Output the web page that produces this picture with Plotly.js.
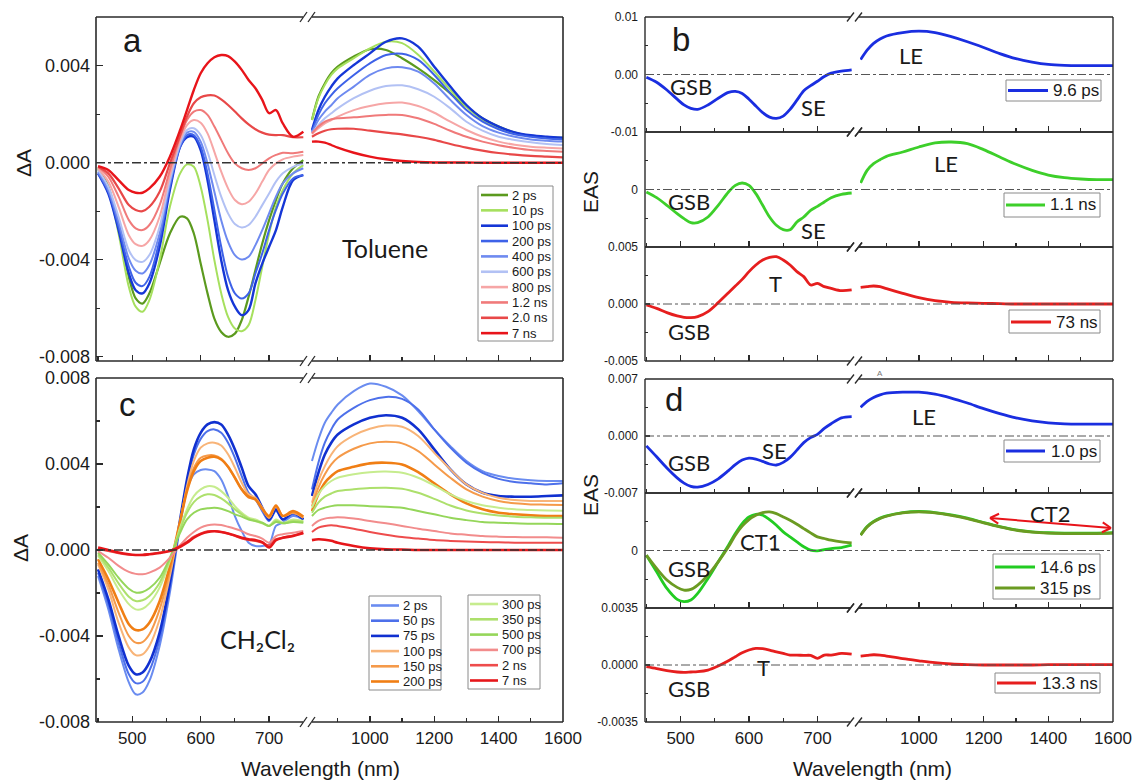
<!DOCTYPE html>
<html><head><meta charset="utf-8">
<script src="https://cdn.plot.ly/plotly-3.0.1.min.js"></script>
<style>html,body{margin:0;padding:0;background:#fff}#chart{width:1138px;height:781px}</style>
</head><body><div id="chart"></div>
<script>
// ===================== DATA (values in units of 1e-3) =====================
const UNIT = 1e-3;
const wlVis = [450,465,480,495,505,515,525,540,555,570,580,590,600,610,620,630,640,650,660,670,680,690,700,710,720,735,750];
const wlNir = [820,840,860,880,900,950,1000,1050,1100,1150,1200,1250,1300,1350,1400,1450,1500,1550,1600];
const xTicksVis = [500,600,700];
const xTicksNir = [1000,1200,1400,1600];

// ---- panel a : Toluene ----
const aNames = ['2 ps','10 ps','100 ps','200 ps','400 ps','600 ps','800 ps','1.2 ns','2.0 ns','7 ns'];
const a2psVis = [-0.23,-0.99,-2.64,-4.71,-5.60,-5.81,-5.39,-4.16,-2.92,-2.23,-2.30,-2.92,-4.16,-5.39,-6.43,-6.98,-7.18,-7.05,-6.49,-5.53,-4.43,-3.33,-2.37,-1.54,-0.85,-0.23,0.11];
const a2psNir = [1.76,2.72,3.27,3.69,3.96,4.38,4.68,4.65,4.31,3.89,3.41,2.86,2.31,1.83,1.49,1.24,1.10,1.05,1.02];
const a10psVis = [-0.30,-1.13,-2.92,-5.12,-5.94,-6.15,-5.67,-4.02,-1.82,-0.44,-0.07,-0.17,-0.99,-2.37,-4.02,-5.39,-6.36,-6.84,-6.95,-6.70,-5.67,-4.29,-2.92,-1.82,-1.13,-0.44,-0.10];
const a10psNir = [1.76,2.66,3.21,3.62,3.89,4.31,4.72,4.99,4.93,4.45,3.76,3.00,2.31,1.76,1.42,1.21,1.10,1.05,1.02];
const a100psVis = [-0.44,-1.27,-2.78,-4.57,-5.26,-5.39,-4.98,-3.47,-1.13,0.66,1.05,1.07,0.52,-0.72,-2.37,-4.02,-5.26,-5.94,-6.29,-6.08,-4.98,-4.16,-3.47,-2.78,-1.82,-0.72,-0.51];
const a100psNir = [1.35,2.17,2.72,3.14,3.48,4.03,4.51,4.99,5.13,4.79,3.96,3.14,2.38,1.83,1.49,1.25,1.13,1.07,1.03];
const a200psVis = [-0.44,-1.20,-2.64,-4.29,-4.95,-5.09,-4.71,-3.19,-0.99,0.66,1.14,1.14,0.66,-0.44,-1.95,-3.47,-4.71,-5.39,-5.60,-5.39,-4.57,-3.74,-2.78,-1.95,-1.27,-0.65,-0.51];
const a200psNir = [1.28,1.97,2.45,2.79,3.07,3.62,4.10,4.44,4.49,4.24,3.62,2.86,2.17,1.69,1.38,1.17,1.07,1.00,0.96];
const a400psVis = [-0.37,-1.13,-2.44,-3.96,-4.46,-4.57,-4.22,-2.92,-0.85,0.73,1.24,1.27,0.87,-0.03,-1.20,-2.37,-3.26,-3.81,-3.99,-3.88,-3.40,-2.78,-2.09,-1.40,-0.85,-0.44,-0.23];
const a400psNir = [1.24,1.76,2.11,2.37,2.66,3.14,3.62,3.89,3.94,3.76,3.27,2.59,1.97,1.51,1.24,1.07,0.96,0.91,0.87];
const a600psVis = [-0.30,-0.99,-2.23,-3.61,-4.02,-4.09,-3.81,-2.64,-0.72,0.80,1.35,1.42,1.14,0.45,-0.51,-1.40,-2.09,-2.53,-2.67,-2.57,-2.23,-1.75,-1.27,-0.78,-0.44,-0.17,-0.03];
const a600psNir = [1.21,1.55,1.83,2.04,2.24,2.66,2.97,3.16,3.19,3.03,2.72,2.24,1.69,1.32,1.07,0.94,0.84,0.77,0.73];
const a800psVis = [-0.23,-0.78,-1.82,-2.99,-3.36,-3.43,-3.19,-2.23,-0.51,0.94,1.55,1.76,1.65,1.21,0.45,-0.37,-1.06,-1.54,-1.71,-1.61,-1.27,-0.78,-0.30,-0.03,0.14,0.25,0.32];
const a800psNir = [1.18,1.42,1.62,1.76,1.90,2.17,2.34,2.45,2.48,2.34,2.06,1.69,1.35,1.07,0.87,0.74,0.66,0.62,0.59];
const a1p2nsVis = [-0.17,-0.58,-1.40,-2.37,-2.71,-2.78,-2.57,-1.75,-0.30,1.07,1.76,2.11,2.17,1.97,1.49,0.94,0.39,-0.03,-0.23,-0.30,-0.23,-0.03,0.18,0.32,0.41,0.39,0.45];
const a1p2nsNir = [1.21,1.49,1.69,1.79,1.83,1.87,1.93,1.97,1.97,1.83,1.60,1.32,1.07,0.87,0.72,0.61,0.52,0.48,0.45];
const a2p0nsVis = [-0.17,-0.44,-1.06,-1.75,-1.95,-2.00,-1.82,-1.20,-0.03,1.14,1.90,2.45,2.70,2.78,2.77,2.61,2.38,2.11,1.83,1.58,1.38,1.24,1.16,1.14,1.14,1.05,1.05];
const a2p0nsNir = [1.07,1.21,1.32,1.38,1.40,1.40,1.32,1.24,1.17,1.07,0.94,0.77,0.62,0.50,0.40,0.33,0.28,0.25,0.22];
const a7nsVis = [-0.14,-0.30,-0.72,-1.13,-1.24,-1.24,-1.06,-0.58,0.25,1.35,2.17,3.00,3.69,4.10,4.35,4.44,4.40,4.17,3.83,3.41,3.07,2.59,2.04,2.17,1.62,1.07,1.28];
const a7nsNir = [0.87,0.87,0.83,0.73,0.62,0.41,0.25,0.14,0.07,0.03,0.01,0.01,0.01,0,0,0,0,0,0];

// ---- panel c : CH2Cl2 ----
const cNames = ['2 ps','50 ps','75 ps','100 ps','150 ps','200 ps','300 ps','350 ps','500 ps','700 ps','2 ns','7 ns'];
const c2psVis = [-1.21,-2.76,-4.62,-6.16,-6.71,-6.63,-6.09,-4.46,-1.98,1.12,2.82,3.52,3.72,3.75,3.67,3.28,2.51,1.58,0.88,0.34,0.19,0.19,0.26,1.12,1.27,1.58,1.42];
const c2psNir = [4.14,5.14,5.92,6.38,6.77,7.39,7.74,7.59,7.19,6.46,5.61,4.83,4.14,3.67,3.44,3.31,3.24,3.21,3.21];
const c50psVis = [-1.05,-2.52,-4.31,-5.78,-6.19,-6.13,-5.62,-4.15,-1.75,1.27,3.13,4.45,5.17,5.53,5.61,5.45,4.99,4.29,3.44,2.66,2.35,1.81,1.35,1.81,1.42,1.66,1.42];
const c50psNir = [2.82,4.06,4.99,5.61,6.07,6.61,6.97,7.12,7.03,6.54,5.61,4.76,4.06,3.59,3.31,3.16,3.10,3.05,3.10];
const c75psVis = [-0.90,-2.29,-4.00,-5.39,-5.78,-5.70,-5.23,-3.84,-1.52,1.42,3.28,4.68,5.45,5.84,5.95,5.84,5.37,4.68,3.83,2.97,2.59,1.97,1.42,1.89,1.42,1.73,1.42];
const c75psNir = [2.51,3.59,4.44,4.99,5.37,5.84,6.15,6.27,6.15,5.61,4.68,3.75,3.05,2.66,2.51,2.48,2.48,2.51,2.54];
const c100psVis = [-0.67,-1.83,-3.38,-4.54,-4.89,-4.85,-4.46,-3.22,-1.21,1.27,2.97,4.14,4.76,4.96,4.99,4.86,4.45,3.83,3.13,2.59,2.43,1.97,1.50,2.04,1.58,1.73,1.50];
const c100psNir = [2.20,3.21,3.90,4.44,4.83,5.33,5.64,5.79,5.73,5.30,4.52,3.75,3.05,2.66,2.43,2.32,2.28,2.28,2.28];
const c150psVis = [-0.59,-1.60,-2.91,-4.00,-4.31,-4.28,-3.92,-2.76,-0.98,1.35,2.82,3.82,4.29,4.40,4.40,4.24,3.87,3.36,2.82,2.43,2.35,1.89,1.50,2.04,1.58,1.73,1.50];
const c150psNir = [2.04,2.90,3.52,3.98,4.29,4.71,4.96,5.03,4.96,4.60,3.98,3.36,2.82,2.48,2.28,2.17,2.12,2.11,2.09];
const c200psVis = [-0.43,-1.36,-2.45,-3.45,-3.72,-3.69,-3.38,-2.38,-0.74,1.35,2.74,3.67,4.14,4.29,4.34,4.21,3.87,3.36,2.82,2.48,2.35,1.92,1.58,2.07,1.58,1.81,1.55];
const c200psNir = [1.81,2.59,3.13,3.44,3.67,3.87,4.03,4.06,3.98,3.62,3.10,2.59,2.17,1.89,1.73,1.66,1.61,1.58,1.58];
const c300psVis = [-0.28,-0.98,-1.83,-2.52,-2.76,-2.73,-2.48,-1.75,-0.51,1.04,1.89,2.51,2.82,2.97,2.94,2.74,2.43,2.04,1.73,1.50,1.42,1.27,1.12,1.42,1.27,1.42,1.35];
const c300psNir = [1.97,2.59,2.97,3.21,3.36,3.52,3.62,3.65,3.59,3.36,3.00,2.59,2.28,2.08,1.97,1.89,1.86,1.84,1.83];
const c350psVis = [-0.20,-0.82,-1.55,-2.17,-2.37,-2.34,-2.14,-1.52,-0.43,0.96,1.73,2.23,2.48,2.59,2.56,2.40,2.17,1.89,1.66,1.46,1.35,1.24,1.12,1.35,1.24,1.35,1.30];
const c350psNir = [1.73,2.20,2.48,2.63,2.74,2.82,2.88,2.90,2.85,2.66,2.38,2.07,1.84,1.70,1.61,1.55,1.52,1.50,1.50];
const c500psVis = [-0.12,-0.67,-1.29,-1.80,-1.98,-1.95,-1.78,-1.29,-0.36,0.81,1.42,1.73,1.89,1.94,1.97,1.92,1.81,1.66,1.55,1.42,1.35,1.27,1.12,1.30,1.24,1.30,1.27];
const c500psNir = [1.58,1.86,1.97,2.04,2.08,2.08,2.04,2.01,1.97,1.81,1.66,1.50,1.39,1.30,1.27,1.24,1.22,1.22,1.21];
const c700psVis = [-0.05,-0.36,-0.74,-1.02,-1.11,-1.13,-1.05,-0.82,-0.36,0.22,0.57,0.84,1.04,1.15,1.19,1.16,1.08,0.99,0.88,0.73,0.65,0.53,0.34,0.65,0.73,0.80,0.88];
const c700psNir = [1.12,1.35,1.46,1.50,1.52,1.46,1.35,1.24,1.12,0.99,0.88,0.77,0.71,0.65,0.62,0.60,0.59,0.59,0.57];
const c2nsVis = [0.03,-0.05,-0.15,-0.22,-0.23,-0.22,-0.19,-0.12,-0.03,0.19,0.39,0.62,0.77,0.87,0.88,0.84,0.77,0.65,0.53,0.46,0.42,0.34,0.22,0.50,0.57,0.68,0.77];
const c2nsNir = [0.84,1.04,1.12,1.15,1.12,0.99,0.84,0.71,0.60,0.53,0.46,0.42,0.39,0.37,0.36,0.34,0.34,0.34,0.34];
const c7nsVis = [0.11,0.00,-0.12,-0.20,-0.23,-0.23,-0.20,-0.14,-0.05,0.15,0.34,0.57,0.74,0.84,0.87,0.84,0.77,0.68,0.57,0.50,0.46,0.37,0.12,0.46,0.57,0.65,0.80];
const c7nsNir = [0.46,0.50,0.48,0.43,0.34,0.19,0.08,0.03,0.02,0,0,0,0,0,0,0,0,0,0];

// ---- panel b : EAS toluene ----
const b96psVis = [-0.47,-1.35,-2.70,-4.29,-5.29,-5.88,-6.06,-5.29,-4.12,-3.12,-2.94,-3.29,-4.29,-5.47,-6.64,-7.41,-7.64,-7.23,-6.06,-4.47,-2.82,-1.94,-1.18,-0.35,0.24,0.59,0.82];
const b96psNir = [2.59,4.23,5.41,6.17,6.70,7.29,7.53,7.29,6.58,5.70,4.70,3.64,2.76,2.17,1.76,1.59,1.53,1.53,1.53];
const b11nsVis = [-0.43,-1.42,-2.75,-4.20,-5.07,-5.77,-5.77,-4.78,-2.75,-0.43,0.72,1.13,0.72,-0.72,-2.75,-4.78,-6.23,-6.99,-6.99,-5.65,-4.78,-3.62,-2.93,-2.17,-1.42,-0.84,-0.61];
const b11nsNir = [1.13,3.33,4.49,5.19,5.77,6.52,7.39,8.09,8.26,7.97,6.93,5.65,4.38,3.33,2.52,2.06,1.83,1.71,1.71];
const b73nsVis = [-0.09,-0.38,-0.76,-1.05,-1.17,-1.20,-1.11,-0.67,0.12,0.99,1.58,2.16,2.84,3.42,3.86,4.09,4.15,3.86,3.42,2.84,2.40,1.67,1.81,1.52,1.37,1.17,1.23];
const b73nsNir = [1.46,1.52,1.58,1.52,1.35,0.94,0.56,0.29,0.15,0.09,0.06,0.03,0,0,0,0,0,0,0];

// ---- panel d : EAS CH2Cl2 ----
const d10psVis = [-1.21,-2.55,-3.93,-5.14,-5.79,-6.19,-6.28,-5.95,-5.26,-4.25,-3.52,-2.96,-2.71,-2.83,-3.12,-3.44,-3.56,-3.24,-2.63,-1.74,-0.81,-0.20,0.20,0.93,1.50,2.23,2.39];
const d10psNir = [3.52,4.25,4.74,5.06,5.26,5.38,5.38,5.14,4.66,4.05,3.36,2.75,2.23,1.86,1.62,1.50,1.46,1.46,1.46];
const d146psVis = [-0.57,-2.59,-4.62,-5.95,-6.23,-6.03,-5.22,-3.40,-1.38,0.65,2.06,3.28,4.09,4.41,4.29,3.76,3.08,2.27,1.66,1.05,0.45,0.04,-0.04,0.12,0.24,0.36,0.65];
const d146psNir = [1.90,2.92,3.53,3.94,4.22,4.62,4.75,4.62,4.34,3.94,3.41,2.92,2.52,2.28,2.16,2.11,2.11,2.11,2.16];
const d315psVis = [-0.57,-2.19,-3.60,-4.49,-4.82,-4.74,-4.21,-2.98,-1.38,0.45,1.86,2.96,3.77,4.29,4.62,4.70,4.49,4.09,3.68,3.20,2.67,2.15,1.66,1.46,1.26,1.05,0.93];
const d315psNir = [1.86,2.87,3.48,3.89,4.17,4.57,4.70,4.57,4.29,3.89,3.36,2.87,2.47,2.23,2.11,2.06,2.06,2.06,2.11];
const d133nsVis = [-0.10,-0.22,-0.35,-0.43,-0.45,-0.43,-0.41,-0.31,-0.06,0.26,0.51,0.75,0.92,1.02,1.00,0.92,0.81,0.71,0.61,0.61,0.59,0.59,0.41,0.61,0.61,0.71,0.67];
const d133nsNir = [0.55,0.59,0.63,0.61,0.55,0.39,0.26,0.14,0.06,0.02,0,0,0,0,0.02,0.02,0.02,0.02,0.02];

// ===================== STYLES =====================
const aColors = ['#5b9a1e','#a6e05e','#1536d6','#3e62e8','#6e8af0','#b2c1f4','#f6a6a6','#f07a7a','#e84848','#e8141a'];
const aWidths = [2.2,2,2.4,2,2,2,2,2,2.2,2.4];
const cColors = ['#6a8cf0','#4d70ea','#1030d0','#f8b478','#f59a4a','#f07e14','#c6ec8e','#ade06c','#95d65a','#f28c8c','#ee4c4c','#e6161a'];
const cWidths = [2,2,2.6,2,2,2.6,2,2,2,2,2,2.6];

// ===================== LAYOUT HELPERS =====================
const W = 1138, H = 781;
const fx = px => px / W;
const fy = py => 1 - py / H;
const TXT = '#1a1a1a', FRAME = '#2a2a2a';
const ARIAL = 'Liberation Sans, Arial, sans-serif';
const CAL = 'Lato, Carlito, sans-serif';

const COLS = {
  left:  {vis:[96,304], nir:[311,563], visR:[447,751], nirR:[817,1600], bl:303, br:312, yfont:18, stand:5},
  right: {vis:[645,852], nir:[860,1113], visR:[448,750.5], nirR:[818,1600], bl:850, br:859, yfont:12, stand:6}
};

const layout = {
  width: W, height: H, margin:{l:0,r:0,t:0,b:0},
  paper_bgcolor:'#ffffff', plot_bgcolor:'rgba(0,0,0,0)', showlegend:false,
  font:{family:ARIAL, color:TXT}, shapes:[], annotations:[]
};
const traces = [];
let nx = 0, ny = 0;

function lineShape(x0,y0,x1,y1,color,width){
  layout.shapes.push({type:'line', xref:'paper', yref:'paper', x0:fx(x0), y0:fy(y0), x1:fx(x1), y1:fy(y1), line:{color:color, width:width}});
}

function makeSubplot(p){
  const c = COLS[p.col];
  ny++; const yRef = ny===1?'y':'y'+ny; const yKey = ny===1?'yaxis':'yaxis'+ny;
  nx++; const xvRef = nx===1?'x':'x'+nx; const xvKey = nx===1?'xaxis':'xaxis'+nx;
  nx++; const xnRef = 'x'+nx; const xnKey = 'xaxis'+nx;
  const common = {showgrid:false, zeroline:false, showline:false, ticks:'inside', tickcolor:FRAME, tickwidth:1.4, ticklen:6, fixedrange:true};
  const xfont = {family:ARIAL, size:17, color:TXT};
  layout[xvKey] = Object.assign({}, common, {domain:[fx(c.vis[0]), fx(c.vis[1])], range:c.visR, anchor:yRef,
    tickmode:'array', tickvals:xTicksVis, ticktext:xTicksVis.map(String), showticklabels:!!p.xlabels, tickfont:xfont, ticklabelstandoff:4,
    minor:{tickmode:'linear', tick0:0, dtick:50, ticks:'inside', ticklen:4, tickwidth:1.2, tickcolor:FRAME}});
  layout[xnKey] = Object.assign({}, common, {domain:[fx(c.nir[0]), fx(c.nir[1])], range:c.nirR, anchor:yRef,
    tickmode:'array', tickvals:xTicksNir, ticktext:xTicksNir.map(String), showticklabels:!!p.xlabels, tickfont:xfont, ticklabelstandoff:4,
    minor:{tickmode:'linear', tick0:0, dtick:100, ticks:'inside', ticklen:4, tickwidth:1.2, tickcolor:FRAME}});
  layout[yKey] = Object.assign({}, common, {domain:[fy(p.bot), fy(p.top)], range:p.range, anchor:xvRef,
    tickmode:'array', tickvals:p.tv, ticktext:p.tt, tickfont:{family:ARIAL, size:c.yfont, color:TXT}, ticklabelstandoff:c.stand,
    ticklen: p.col==='left'?7:5,
    minor:{tickmode:'linear', tick0:0, dtick:p.minor, ticks:'inside', ticklen:p.col==='left'?4:3, tickwidth:1.2, tickcolor:FRAME}});
  const lw = p.col==='left'?1.6:1.4;
  lineShape(c.vis[0], p.top, c.vis[0], p.bot, FRAME, lw);
  lineShape(c.nir[1], p.top, c.nir[1], p.bot, FRAME, lw);
  [p.top, p.bot].forEach(yy => {
    lineShape(c.vis[0], yy, c.bl, yy, FRAME, lw);
    lineShape(c.br, yy, c.nir[1], yy, FRAME, lw);
    const h = p.col==='left'?5:4.5;
    lineShape(c.bl-3, yy+h, c.bl+4, yy-h, FRAME, 1.3);
    lineShape(c.br-4, yy+h, c.br+3, yy-h, FRAME, 1.3);
  });
  layout.shapes.push({type:'line', xref:'paper', yref:yRef, x0:fx(c.vis[0]), x1:fx(c.nir[1]), y0:0, y1:0,
    line:{color: p.col==='left'?'#333':'#555', width: p.col==='left'?1.5:1, dash:'dashdot'}});
  return {xv:xvRef, xn:xnRef, y:yRef};
}

function addSeries(ax, vis, nir, color, width){
  const base = {type:'scatter', mode:'lines', yaxis:ax.y, hoverinfo:'skip', showlegend:false};
  traces.push(Object.assign({}, base, {x:wlVis, y:vis.map(v=>v*UNIT), xaxis:ax.xv, line:{color:color, width:width, shape:'spline', smoothing:0.9}}));
  traces.push(Object.assign({}, base, {x:wlNir, y:nir.map(v=>v*UNIT), xaxis:ax.xn, line:{color:color, width:width, shape:'spline', smoothing:0.9}}));
}

function text(t, x, y, size, family, opts){
  layout.annotations.push(Object.assign({text:t, xref:'paper', yref:'paper', x:fx(x), y:fy(y), showarrow:false,
    xanchor:'center', yanchor:'middle', font:{family:family, size:size, color:TXT}}, opts||{}));
}

function legendBox(items, box, lineX, textX, y0, dy, fsize, lw){
  layout.shapes.push({type:'rect', xref:'paper', yref:'paper', x0:fx(box[0]), y0:fy(box[1]), x1:fx(box[2]), y1:fy(box[3]),
    line:{color:'#8a8a8a', width:1}, fillcolor:'rgba(255,255,255,0)'});
  items.forEach((it, i) => {
    const yy = y0 + i*dy;
    lineShape(lineX[0], yy, lineX[1], yy, it.color, lw);
    text(it.name, textX, yy, fsize, ARIAL, {xanchor:'left'});
  });
}

function doubleArrow(x0, y0, x1, y1, color, width, headLen){
  lineShape(x0, y0, x1, y1, color, width);
  const L = Math.hypot(x1-x0, y1-y0), ux = (x1-x0)/L, uy = (y1-y0)/L;
  const a = Math.PI/6, ca = Math.cos(a), sa = Math.sin(a);
  const rot = (vx, vy, s) => [vx*ca - s*vy*sa, s*vx*sa + vy*ca];
  [[x1, y1, -ux, -uy], [x0, y0, ux, uy]].forEach(([px, py, vx, vy]) => {
    [1, -1].forEach(s => {
      const r = rot(vx, vy, s);
      lineShape(px, py, px + r[0]*headLen, py + r[1]*headLen, color, width);
    });
  });
}

// ===================== PANELS =====================
const pa = makeSubplot({col:'left', top:17, bot:361, range:[-0.00818,0.00601], tv:[-0.008,-0.004,0,0.004], tt:['-0.008','-0.004','0.000','0.004'], minor:0.002});
const pc = makeSubplot({col:'left', top:378, bot:722, range:[-0.008,0.008], tv:[-0.008,-0.004,0,0.004,0.008], tt:['-0.008','-0.004','0.000','0.004','0.008'], minor:0.002, xlabels:true});
const pb1 = makeSubplot({col:'right', top:17, bot:132, range:[-0.01,0.01], tv:[-0.01,0,0.01], tt:['-0.01','0.00','0.01'], minor:0.005});
const pb2 = makeSubplot({col:'right', top:132, bot:247, range:[-0.01,0.01], tv:[0], tt:['0'], minor:0.005});
const pb3 = makeSubplot({col:'right', top:247, bot:361, range:[-0.005,0.005], tv:[-0.005,0,0.005], tt:['-0.005','0.000','0.005'], minor:0.0025});
const pd1 = makeSubplot({col:'right', top:379, bot:493, range:[-0.007,0.007], tv:[-0.007,0,0.007], tt:['-0.007','0.000','0.007'], minor:0.0035});
const pd2 = makeSubplot({col:'right', top:493, bot:608, range:[-0.007,0.007], tv:[0], tt:['0'], minor:0.0035});
const pd3 = makeSubplot({col:'right', top:608, bot:722, range:[-0.0035,0.0035], tv:[-0.0035,0,0.0035], tt:['-0.0035','0.0000','0.0035'], minor:0.00175, xlabels:true});

const aVis = [a2psVis,a10psVis,a100psVis,a200psVis,a400psVis,a600psVis,a800psVis,a1p2nsVis,a2p0nsVis,a7nsVis];
const aNir = [a2psNir,a10psNir,a100psNir,a200psNir,a400psNir,a600psNir,a800psNir,a1p2nsNir,a2p0nsNir,a7nsNir];
aNames.forEach((n,i) => addSeries(pa, aVis[i], aNir[i], aColors[i], aWidths[i]));

const cVis = [c2psVis,c50psVis,c75psVis,c100psVis,c150psVis,c200psVis,c300psVis,c350psVis,c500psVis,c700psVis,c2nsVis,c7nsVis];
const cNir = [c2psNir,c50psNir,c75psNir,c100psNir,c150psNir,c200psNir,c300psNir,c350psNir,c500psNir,c700psNir,c2nsNir,c7nsNir];
cNames.forEach((n,i) => addSeries(pc, cVis[i], cNir[i], cColors[i], cWidths[i]));

const bdSeries = [
  {ax:pb1, name:'9.6 ps', vis:b96psVis, nir:b96psNir, color:'#1a2ee0'},
  {ax:pb2, name:'1.1 ns', vis:b11nsVis, nir:b11nsNir, color:'#3dcf2a'},
  {ax:pb3, name:'73 ns', vis:b73nsVis, nir:b73nsNir, color:'#e61e1e'},
  {ax:pd1, name:'1.0 ps', vis:d10psVis, nir:d10psNir, color:'#1a2ee0'},
  {ax:pd2, name:'14.6 ps', vis:d146psVis, nir:d146psNir, color:'#22cc22'},
  {ax:pd2, name:'315 ps', vis:d315psVis, nir:d315psNir, color:'#6b9b22'},
  {ax:pd3, name:'13.3 ns', vis:d133nsVis, nir:d133nsNir, color:'#e61e1e'}
];
bdSeries.forEach(s => addSeries(s.ax, s.vis, s.nir, s.color, 2.8));

// ===================== LEGENDS =====================
legendBox(aNames.map((n,i)=>({name:n, color:aColors[i]})), [478,186,553,341], [481,508], 510, 195, 15.35, 13, 2.6);
legendBox(cNames.slice(0,6).map((n,i)=>({name:n, color:cColors[i]})), [369,596,441,690], [371,399], 401, 605.5, 15.2, 13, 2.6);
legendBox(cNames.slice(6).map((n,i)=>({name:n, color:cColors[i+6]})), [468,595,540,689], [470,498], 500, 604, 15.3, 13, 2.6);
legendBox([bdSeries[0]], [1006,80,1101,101], [1008,1048], 1051, 90.5, 0, 17, 3.2);
legendBox([bdSeries[1]], [1004,193,1100,217], [1006,1045], 1048, 205, 0, 17, 3.2);
legendBox([bdSeries[2]], [1009,310,1100,333], [1011,1051], 1054, 322, 0, 17, 3.2);
legendBox([bdSeries[3]], [1004,440,1100,462], [1006,1045], 1049, 451, 0, 17, 3.2);
legendBox([bdSeries[4], bdSeries[5]], [993,554,1100,599], [995,1035], 1038, 567, 21, 17, 3.2);
legendBox([bdSeries[6]], [995,673,1100,693], [997,1036], 1040, 683, 0, 17, 3.2);

// ===================== TEXT =====================
text('a', 132, 41, 33, ARIAL); text('c', 128, 404, 33, ARIAL);
text('b', 681, 39, 33, ARIAL); text('d', 674, 399, 33, ARIAL);
text('Toluene', 385, 248, 25, CAL);
text('CH\u2082Cl\u2082', 257, 639, 25, CAL);
text('\u0394A', 23, 163, 21, ARIAL, {textangle:-90});
text('\u0394A', 20, 548, 21, ARIAL, {textangle:-90});
text('EAS', 591, 192, 21, ARIAL, {textangle:-90});
text('EAS', 590, 495, 21, ARIAL, {textangle:-90});
text('Wavelength (nm)', 320, 768, 21, ARIAL);
text('Wavelength (nm)', 872, 768, 21, ARIAL);
[['GSB',691,86],['SE',814,108],['LE',911,55],
 ['GSB',689,201],['SE',814,230],['LE',946,163],
 ['T',775,283],['GSB',689,332],
 ['GSB',689,462],['SE',774,450],['LE',924,416],
 ['GSB',689,568],['CT1',760,541],['CT2',1050,513],
 ['T',763,667],['GSB',689,688]].forEach(l => text(l[0], l[1], l[2], 22, CAL));
text('A', 880, 373, 8, ARIAL, {font:{family:ARIAL, size:8, color:'#777'}});
doubleArrow(990, 518, 1111, 528, '#e8141a', 2, 10);

Plotly.newPlot('chart', traces, layout, {displayModeBar:false, staticPlot:true});
</script>
</body></html>
